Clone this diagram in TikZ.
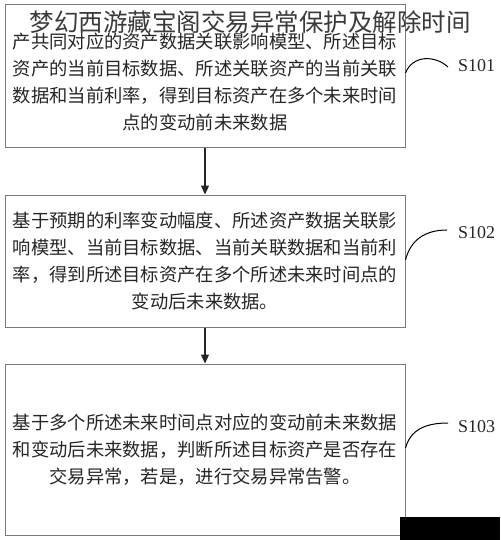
\documentclass[tikz,border=0pt]{standalone}
\usepackage{fontspec}
\setmainfont{Liberation Serif}
\newfontfamily\cjk{Noto Sans CJK SC}
\usetikzlibrary{arrows.meta}
\definecolor{boxgray}{HTML}{7A7A7A}
\definecolor{ink}{HTML}{262626}
\definecolor{titlegray}{HTML}{3A3A3A}
\begin{document}
\begin{tikzpicture}[x=1pt,y=1pt,
  stepbox/.style={draw=boxgray, line width=1pt, minimum width=400pt, inner sep=0pt,
    align=center, text=ink, font=\cjk\fontsize{18.3}{27}\selectfont},
  flow/.style={draw=ink, line width=1.2pt, -{Triangle[width=8pt,length=9pt]}},
  lbl/.style={font=\fontsize{18}{20}\selectfont, text=ink, inner sep=0pt},
  callout/.style={draw=black, line width=1pt},
  titletext/.style={font=\cjk\fontsize{24.5}{26}\selectfont, text=titlegray}]
\useasboundingbox (0,0) rectangle (500,-540);
\fill[white] (0,0) rectangle (500,-540);

\node[stepbox, minimum height=143pt] (b1) at (205,-76.5)
  {\mbox{}\\产共同对应的资产数据关联影响模型、所述目标\\资产的当前目标数据、所述关联资产的当前关联\\数据和当前利率，得到目标资产在多个未来时间\\点的变动前未来数据};
\node[stepbox, minimum height=132pt] (b2) at (205,-261)
  {基于预期的利率变动幅度、所述资产数据关联影\\响模型、当前目标数据、当前关联数据和当前利\\率，得到所述目标资产在多个所述未来时间点的\\变动后未来数据。};
\node[stepbox, minimum height=171pt] (b3) at (205,-449.5)
  {基于多个所述未来时间点对应的变动前未来数据\\和变动后未来数据，判断所述目标资产是否存在\\交易异常，若是，进行交易异常告警。};

\node[titletext] (title) at (250,-22) {梦幻西游藏宝阁交易异常保护及解除时间};

\draw[flow] (b1.south) -- (b2.north);
\draw[flow] (b2.south) -- (b3.north);

\node[lbl, anchor=west] (s1) at (458,-66) {S101};
\node[lbl, anchor=west] (s2) at (458,-233) {S102};
\node[lbl, anchor=west] (s3) at (458,-427) {S103};

\coordinate (c1) at ([yshift=3.5pt]b1.east);
\coordinate (c2) at ([yshift=1pt]b2.east);
\coordinate (c3) at ([yshift=1.5pt]b3.east);
\coordinate (e1) at ([xshift=-10pt,yshift=-1pt]s1.west);
\coordinate (e2) at ([xshift=-11pt,yshift=3pt]s2.west);
\coordinate (e3) at ([xshift=-10pt,yshift=4pt]s3.west);
\draw[callout] (c1) .. controls ([shift={(7pt,18pt)}]c1) and ([shift={(-13pt,12pt)}]e1) .. (e1);
\draw[callout] (c2) .. controls ([shift={(5pt,20pt)}]c2) and ([shift={(-22pt,0pt)}]e2) .. (e2);
\draw[callout] (c3) .. controls ([shift={(5pt,18pt)}]c3) and ([shift={(-23pt,0pt)}]e3) .. (e3);

\fill[black] (400,-517) rectangle (500,-540);
\end{tikzpicture}
\end{document}
